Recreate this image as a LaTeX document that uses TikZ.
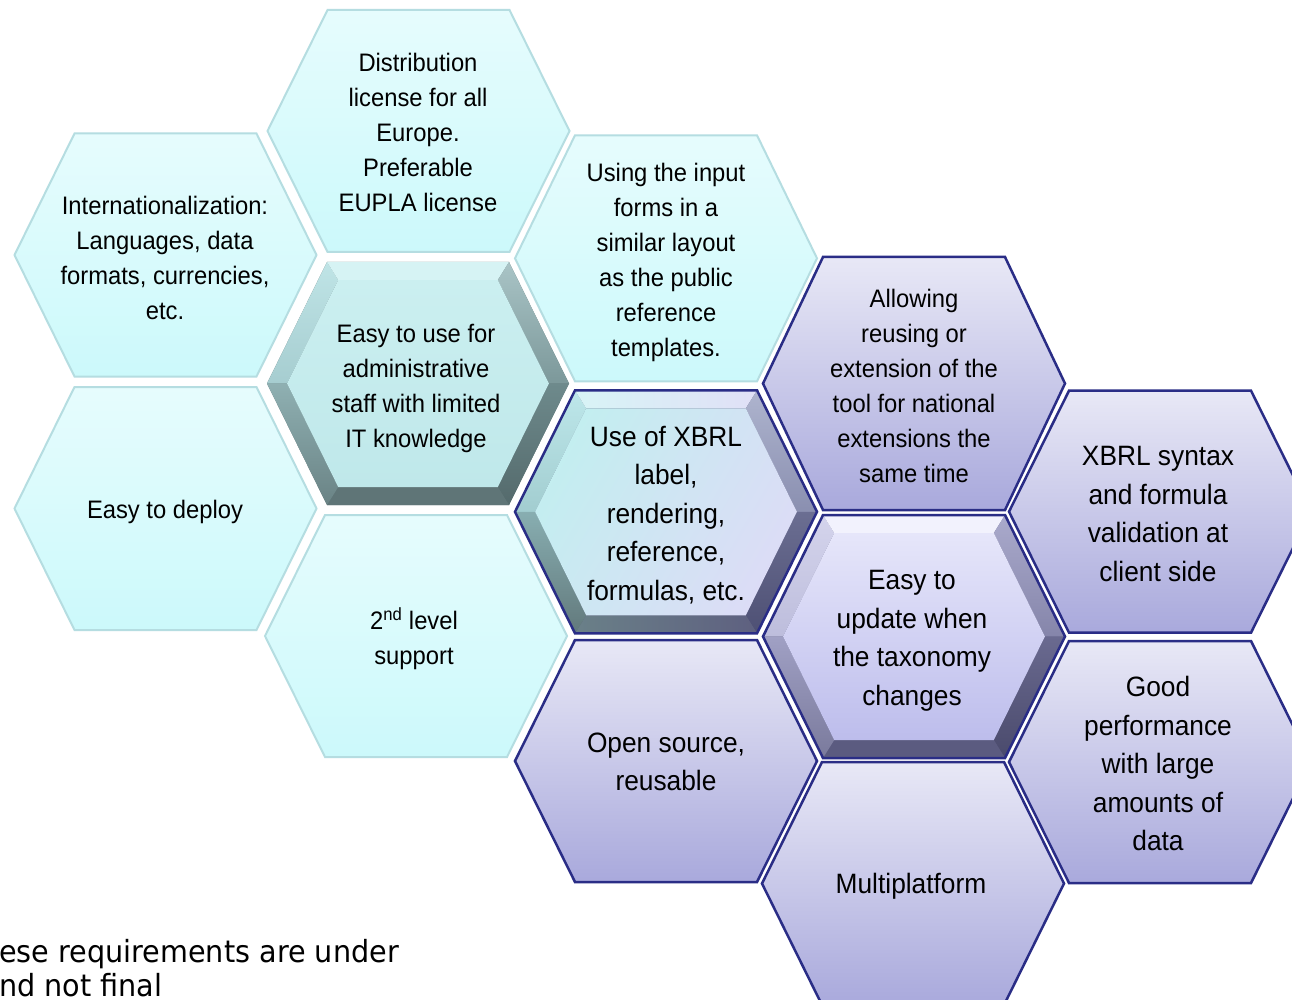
\documentclass[tikz,border=0pt]{standalone}
\usepackage{fontspec}
\newfontfamily\hexfont[FakeStretch=0.94]{Liberation Sans}
\newfontfamily\notefont[FakeStretch=0.94]{DejaVu Sans}
\definecolor{cyTop}{HTML}{E6FCFD}
\definecolor{cyBot}{HTML}{CCF9FB}
\definecolor{cyLine}{HTML}{B5DDE1}
\definecolor{lvTop}{HTML}{E8E8F6}
\definecolor{lvBot}{HTML}{A9A9DC}
\definecolor{navy}{HTML}{2A2D86}
% helper colours
\definecolor{BFE4E6}{HTML}{BFE4E6}\definecolor{A6CDD0}{HTML}{A6CDD0}
\definecolor{D6F3F4}{HTML}{D6F3F4}\definecolor{A3C0C2}{HTML}{A9C4C6}
\definecolor{7C989A}{HTML}{7C989A}\definecolor{6E8A8C}{HTML}{6E8A8C}
\definecolor{4F6567}{HTML}{546A6C}\definecolor{5F7577}{HTML}{5F7577}
\definecolor{8FB0B2}{HTML}{8FB0B2}\definecolor{667F81}{HTML}{6A8385}
\definecolor{CBEFF0}{HTML}{CBEFF0}\definecolor{BCE6E8}{HTML}{BFE8EA}
\definecolor{BDE7EA}{HTML}{BDE7EA}\definecolor{A2CDD0}{HTML}{A2CDD0}
\definecolor{D8F4F6}{HTML}{D8F4F6}\definecolor{E0E0F6}{HTML}{E0E0F6}
\definecolor{AEB4CE}{HTML}{AEB4CE}\definecolor{8A8FB0}{HTML}{8A8FB0}
\definecolor{6B6E92}{HTML}{6B6E92}\definecolor{4E5074}{HTML}{4E5074}
\definecolor{6A8088}{HTML}{6A8088}\definecolor{5E6080}{HTML}{5E6080}
\definecolor{88AEB1}{HTML}{88AEB1}\definecolor{62797C}{HTML}{62797C}
\definecolor{C3EEF0}{HTML}{C3EEF0}\definecolor{DCDCF6}{HTML}{DCDCF6}
\definecolor{D4D4EC}{HTML}{D4D4EC}\definecolor{BDBDDC}{HTML}{BDBDDC}
\definecolor{F2F2FD}{HTML}{F2F2FD}\definecolor{AAAACC}{HTML}{AAAACC}
\definecolor{8585AA}{HTML}{8585AA}\definecolor{6A6A90}{HTML}{6A6A90}
\definecolor{4A4A6C}{HTML}{4A4A6C}\definecolor{5B5B80}{HTML}{5B5B80}
\definecolor{A0A0C4}{HTML}{A0A0C4}\definecolor{7A7A9C}{HTML}{7A7A9C}
\definecolor{E6E6FA}{HTML}{E6E6FA}\definecolor{BDBDEC}{HTML}{BDBDEC}
\tikzset{
  x=1pt, y=-1pt,
  txtA/.style={font={\hexfont\fontsize{25.3}{35}\selectfont}, align=center, text=black, inner sep=0pt},
  txtB/.style={font={\hexfont\fontsize{28}{38.5}\selectfont}, align=center, text=black, inner sep=0pt},
  notetext/.style={font={\notefont\fontsize{30.5}{34}\selectfont}, anchor=base west, inner sep=0pt},
  cyanhex/.style={top color=cyTop, bottom color=cyBot, draw=cyLine, line width=2pt, line join=miter},
  lavhex/.style={top color=lvTop, bottom color=lvBot, draw=navy, line width=2.5pt, line join=miter},
  navyline/.style={draw=navy, line width=2.5pt, line join=miter},
  % teal bevel (Easy to use)
  tealbase/.style={fill=5F7577},
  tealul/.style={top color=BFE4E6, bottom color=A6CDD0},
  tealt/.style={fill=D6F3F4},
  tealur/.style={top color=A3C0C2, bottom color=7C989A},
  teallr/.style={top color=6E8A8C, bottom color=4F6567},
  tealb/.style={fill=5F7577},
  tealll/.style={top color=8FB0B2, bottom color=667F81},
  tealin/.style={top color=CBEFF0, bottom color=BCE6E8},
  % mixed bevel (XBRL label)
  mixbase/.style={fill=5E6080},
  mixul/.style={top color=BDE7EA, bottom color=A2CDD0},
  mixt/.style={left color=D8F4F6, right color=E0E0F6},
  mixur/.style={top color=AEB4CE, bottom color=8A8FB0},
  mixlr/.style={top color=6B6E92, bottom color=4E5074},
  mixb/.style={left color=6A8088, right color=5E6080},
  mixll/.style={top color=88AEB1, bottom color=62797C},
  mixin/.style={left color=C3EEF0, right color=DCDCF6, shading angle=60},
  % lavender bevel (Easy to update)
  lavbase/.style={fill=5B5B80},
  lavul/.style={top color=D4D4EC, bottom color=BDBDDC},
  lavt/.style={fill=F2F2FD},
  lavur/.style={top color=AAAACC, bottom color=8585AA},
  lavlr/.style={top color=6A6A90, bottom color=4A4A6C},
  lavb/.style={fill=5B5B80},
  lavll/.style={top color=A0A0C4, bottom color=7A7A9C},
  lavin/.style={top color=E6E6FA, bottom color=BDBDEC},
}
% plain hexagon: centre x, centre y, half height, style
\newcommand{\hexat}[4]{%
  \path[#4] (#1-151,#2) -- (#1-91,#2-#3) -- (#1+91,#2-#3) -- (#1+151,#2)
    -- (#1+91,#2+#3) -- (#1-91,#2+#3) -- cycle;}
% bevelled hexagon: centre x, centre y, half height, style prefix
\newcommand{\bevelhex}[4]{%
  \begin{scope}[shift={(#1,#2)}]
    \pgfmathsetmacro\hhi{#3-18}
    \path[#4base] (-151,0) -- (-91,-#3) -- (91,-#3) -- (151,0) -- (91,#3) -- (-91,#3) -- cycle;
    \path[#4ul] (-151,0) -- (-91,-#3) -- (-79.8,-\hhi) -- (-130.9,0) -- cycle;
    \path[#4t] (-91,-#3) -- (91,-#3) -- (79.8,-\hhi) -- (-79.8,-\hhi) -- cycle;
    \path[#4ur] (91,-#3) -- (151,0) -- (130.9,0) -- (79.8,-\hhi) -- cycle;
    \path[#4lr] (151,0) -- (91,#3) -- (79.8,\hhi) -- (130.9,0) -- cycle;
    \path[#4b] (91,#3) -- (-91,#3) -- (-79.8,\hhi) -- (79.8,\hhi) -- cycle;
    \path[#4ll] (-91,#3) -- (-151,0) -- (-130.9,0) -- (-79.8,\hhi) -- cycle;
    \path[#4in] (-130.9,0) -- (-79.8,-\hhi) -- (79.8,-\hhi) -- (130.9,0) -- (79.8,\hhi) -- (-79.8,\hhi) -- cycle;
  \end{scope}}
\begin{document}
\begin{tikzpicture}
\useasboundingbox (0,0) rectangle (1292,1000);
\fill[white] (0,0) rectangle (1292,1000);
\clip (0,0) rectangle (1292,1000);

% cyan group
\hexat{165.5}{255}{121.5}{cyanhex}
\hexat{165.5}{508.5}{121.5}{cyanhex}
\hexat{418.5}{131}{121}{cyanhex}
\hexat{416}{636}{121}{cyanhex}
\hexat{666}{258.3}{123}{cyanhex}
\bevelhex{418}{383.5}{121.5}{teal}

% lavender group
\hexat{914}{383.5}{126.5}{lavhex}
\hexat{666}{761}{121}{lavhex}
\hexat{913}{883.5}{121.5}{lavhex}
\hexat{1160}{511.7}{121}{lavhex}
\hexat{1160}{762}{121}{lavhex}
\bevelhex{666}{511.8}{121.5}{mix}
\hexat{666}{511.8}{121.5}{navyline}
\bevelhex{914}{636.5}{121.5}{lav}
\hexat{914}{636.5}{121.5}{navyline}

% texts
\node[txtA] (intl) at (165,257.5) {Internationalization:\\Languages, data\\formats, currencies,\\etc.};
\node[txtA] (deploy) at (165,512) {Easy to deploy};
\node[txtA] (distr) at (418,132.5) {Distribution\\license for all\\Europe.\\Preferable\\EUPLA license};
\node[txtA] (easyuse) at (416,388) {Easy to use for\\administrative\\staff with limited\\IT knowledge};
\node[txtA] (second) at (414,639) {2\textsuperscript{nd} level\\support};
\node[txtA] (using) at (666,262.5) {Using the input\\forms in a\\similar layout\\as the public\\reference\\templates.};
\node[txtA] (allow) at (914,385.5) {Allowing\\reusing or\\extension of the\\tool for national\\extensions the\\same time};
\node[txtB] (xbrllabel) at (666,515) {Use of XBRL\\label,\\rendering,\\reference,\\formulas, etc.};
\node[txtB] (update) at (912,641) {Easy to\\update when\\the taxonomy\\changes};
\node[txtB] (syntax) at (1158,514) {XBRL syntax\\and formula\\validation at\\client side};
\node[txtB] (good) at (1158,763.5) {Good\\performance\\with large\\amounts of\\data};
\node[txtB] (open) at (666,762) {Open source,\\reusable};
\node[txtB] (multi) at (911,886) {Multiplatform};

\node[notetext] (note1) at (-1,962) {ese requirements are under};
\node[notetext] (note2) at (-1,996) {nd not final};
\end{tikzpicture}
\end{document}
